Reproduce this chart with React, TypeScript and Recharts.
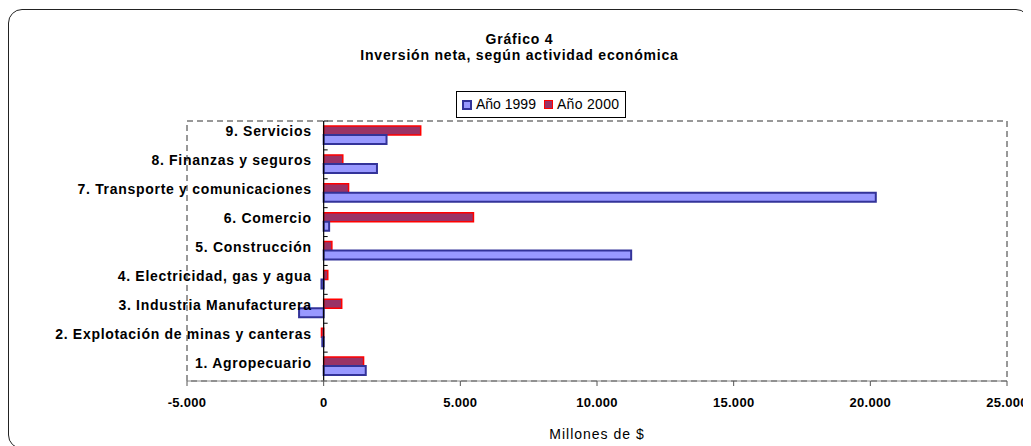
import React from "react";
import {
  BarChart,
  Bar,
  XAxis,
  YAxis,
  Legend,
  ReferenceLine,
  ReferenceArea,
} from "recharts";

const categories = [
  "1. Agropecuario",
  "2. Explotación de minas y canteras",
  "3. Industria Manufacturera",
  "4. Electricidad, gas y agua",
  "5. Construcción",
  "6. Comercio",
  "7. Transporte y comunicaciones",
  "8. Finanzas y seguros",
  "9. Servicios",
];
const anio1999 = [1540, -50, -900, -80, 11250, 200, 20200, 1950, 2300];
const anio2000 = [1460, -80, 660, 150, 300, 5480, 910, 700, 3550];
const xTicks = [-5000, 0, 5000, 10000, 15000, 20000, 25000];

const data = categories.map((name, i) => ({
  name,
  y1999: anio1999[i],
  y2000: anio2000[i],
}));

const X_MIN = -5000;
const X_MAX = 25000;
const CHART_W = 1023;
const CHART_H = 438;
const MARGIN = { top: 113, right: 24, bottom: 7, left: 178 };
const Y_W = 1;
const PLOT_W = CHART_W - MARGIN.left - Y_W - MARGIN.right;
const ZERO_X = (PLOT_W * (0 - X_MIN)) / (X_MAX - X_MIN);

const FONT = "'Liberation Sans', Arial, sans-serif";
const BLUE_FILL = "#9999ff";
const BLUE_LINE = "#333399";
const RED_FILL = "#993366";
const RED_LINE = "#ff0000";

const fmt = (v: number) => {
  const s = Math.abs(v).toString().replace(/\B(?=(\d{3})+(?!\d))/g, ".");
  return v < 0 ? "-" + s : s;
};

// category labels sit just left of the zero line, like Excel does it
const renderCategoryTick = (props: any) => {
  const { x, y, payload, index } = props;
  const half = payload && payload.offset ? payload.offset : 14.4;
  const left = x; // plot left edge (tick size and margin are 0)
  return (
    <g key={"cat-" + index}>
      <text
        x={left + ZERO_X - 12}
        y={y}
        dy={1}
        textAnchor="end"
        fontFamily={FONT}
        fontWeight="bold"
        fontSize={14}
        letterSpacing={0.7}
        fill="#000"
      >
        {payload.value}
      </text>
      <line
        x1={left + ZERO_X}
        x2={left + ZERO_X + 4}
        y1={y - half}
        y2={y - half}
        stroke="#000"
      />
    </g>
  );
};

const LegendBox = () => (
  <div
    style={{
      display: "flex",
      alignItems: "center",
      border: "1px solid #000",
      background: "#fff",
      padding: "5px 6px 5px 5px",
      fontFamily: FONT,
      fontSize: 14,
      lineHeight: "15px",
      whiteSpace: "nowrap",
    }}
  >
    <span
      style={{
        width: 6,
        height: 6,
        background: BLUE_FILL,
        border: `2px solid ${BLUE_LINE}`,
        marginRight: 4,
      }}
    />
    <span style={{ marginRight: 8 }}>Año 1999</span>
    <span
      style={{
        width: 7,
        height: 7,
        background: RED_FILL,
        border: `1.5px solid ${RED_LINE}`,
        marginRight: 4,
      }}
    />
    <span style={{ letterSpacing: 0.3 }}>Año 2000</span>
  </div>
);

export default function App() {
  return (
    <div style={{ position: "relative", width: CHART_W, height: CHART_H }}>
      <div
        style={{
          position: "absolute",
          left: 0,
          top: 1,
          width: 1022,
          height: 440,
          boxSizing: "border-box",
          border: "1.5px solid #222",
          borderRadius: 14,
          pointerEvents: "none",
        }}
      />
      <div
        style={{
          position: "absolute",
          top: 23,
          left: 0,
          width: CHART_W,
          textAlign: "center",
          fontFamily: FONT,
          fontWeight: "bold",
          fontSize: 14,
          letterSpacing: 0.8,
          lineHeight: "16px",
        }}
      >
        <div>Gráfico 4</div>
        <div>Inversión neta, según actividad económica</div>
      </div>
      <BarChart
        width={CHART_W}
        height={CHART_H}
        data={data}
        layout="vertical"
        margin={MARGIN}
        barGap={0}
        barSize={9}
      >
        <ReferenceArea
          x1={X_MIN}
          x2={X_MAX}
          fill="none"
          stroke="#333"
          strokeDasharray="6 4"
        />
        <XAxis
          type="number"
          domain={[X_MIN, X_MAX]}
          ticks={xTicks}
          tickFormatter={fmt}
          height={58}
          tickSize={5}
          tickMargin={12}
          axisLine={{ stroke: "#888" }}
          tickLine={{ stroke: "#555" }}
          tick={{
            fontFamily: FONT,
            fontWeight: "bold",
            fontSize: 13,
            letterSpacing: 0.3,
            fill: "#000",
          }}
          label={{
            value: "Millones de $",
            position: "insideBottom",
            offset: 0,
            fontFamily: FONT,
            fontSize: 14,
            letterSpacing: 1,
            fill: "#000",
          }}
        />
        <YAxis
          type="category"
          dataKey="name"
          reversed
          width={Y_W}
          tickSize={0}
          tickMargin={0}
          axisLine={false}
          tickLine={false}
          interval={0}
          tick={renderCategoryTick}
        />
        <Legend
          verticalAlign="middle"
          align="center"
          layout="horizontal"
          wrapperStyle={{ top: 83, left: 448, width: "auto", height: "auto" }}
          content={<LegendBox />}
        />
        <Bar
          dataKey="y2000"
          name="Año 2000"
          fill={RED_FILL}
          stroke={RED_LINE}
          strokeWidth={1.5}
          isAnimationActive={false}
        />
        <Bar
          dataKey="y1999"
          name="Año 1999"
          fill={BLUE_FILL}
          stroke={BLUE_LINE}
          strokeWidth={2}
          isAnimationActive={false}
        />
        <ReferenceLine x={0} stroke="#000" strokeWidth={1.2} />
      </BarChart>
    </div>
  );
}
